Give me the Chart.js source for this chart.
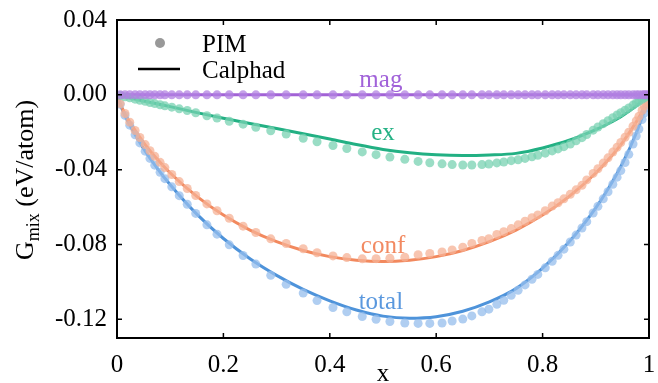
<!DOCTYPE html>
<html>
<head>
<meta charset="utf-8">
<script src="https://cdn.jsdelivr.net/npm/chart.js@4.4.1/dist/chart.umd.min.js"></script>
<style>
  html, body { margin: 0; padding: 0; background: #fff; }
  #wrap { width: 658px; height: 383px; }
</style>
</head>
<body>
<div id="wrap"><canvas id="gmix" width="658" height="383"></canvas></div>
<script>
// PIM points (composition grid)
const pimX = [0.006, 0.015, 0.024, 0.034, 0.043, 0.053, 0.062, 0.071, 0.081, 0.090,
  0.103, 0.117, 0.132, 0.148, 0.169, 0.188, 0.211, 0.237, 0.261, 0.289,
  0.318, 0.350, 0.376, 0.406, 0.432, 0.461, 0.487, 0.513, 0.541, 0.566,
  0.588, 0.611, 0.630, 0.650, 0.667, 0.686, 0.699, 0.714, 0.727, 0.741,
  0.754, 0.767, 0.780, 0.791, 0.805, 0.818, 0.829, 0.840, 0.852, 0.863,
  0.874, 0.883, 0.895, 0.904, 0.914, 0.923, 0.932, 0.940, 0.947, 0.955,
  0.962, 0.970, 0.976, 0.981, 0.987, 0.991, 0.994, 0.998];

const pimMag = [0, 0, 0, 0, 0, 0, 0, 0, 0, 0,
  0, 0, 0, 0, 0, 0, 0, 0, 0, 0,
  0, 0, 0, 0, 0, 0, 0, 0, 0, 0,
  0, 0, 0, 0, 0, 0, 0, 0, 0, 0,
  0, 0, 0, 0, 0, 0, 0, 0, 0, 0,
  0, 0, 0, 0, 0, 0, 0, 0, 0, 0,
  0, 0, 0, 0, 0, 0, 0, 0];

const pimEx = [-0.0004, -0.0010, -0.0016, -0.0023, -0.0029, -0.0035, -0.0041, -0.0047, -0.0053, -0.0059,
  -0.0066, -0.0075, -0.0084, -0.0096, -0.0112, -0.0124, -0.0141, -0.0157, -0.0174, -0.0192,
  -0.0210, -0.0232, -0.0251, -0.0271, -0.0287, -0.0305, -0.0320, -0.0333, -0.0345, -0.0356,
  -0.0363, -0.0369, -0.0373, -0.0375, -0.0375, -0.0373, -0.0370, -0.0364, -0.0359, -0.0352,
  -0.0347, -0.0340, -0.0331, -0.0323, -0.0312, -0.0300, -0.0289, -0.0277, -0.0263, -0.0246,
  -0.0229, -0.0212, -0.0189, -0.0172, -0.0154, -0.0138, -0.0122, -0.0108, -0.0096, -0.0082,
  -0.0070, -0.0055, -0.0044, -0.0035, -0.0024, -0.0016, -0.0011, -0.0004];

const pimConf = [-0.0047, -0.0100, -0.0146, -0.0191, -0.0228, -0.0266, -0.0299, -0.0329, -0.0361, -0.0389,
  -0.0426, -0.0464, -0.0501, -0.0538, -0.0583, -0.0620, -0.0660, -0.0702, -0.0736, -0.0770,
  -0.0795, -0.0823, -0.0844, -0.0861, -0.0870, -0.0877, -0.0876, -0.0873, -0.0868, -0.0855,
  -0.0848, -0.0840, -0.0829, -0.0815, -0.0795, -0.0779, -0.0769, -0.0747, -0.0732, -0.0715,
  -0.0695, -0.0676, -0.0657, -0.0642, -0.0620, -0.0595, -0.0577, -0.0556, -0.0532, -0.0508,
  -0.0484, -0.0455, -0.0420, -0.0395, -0.0365, -0.0337, -0.0306, -0.0280, -0.0255, -0.0227,
  -0.0200, -0.0168, -0.0140, -0.0115, -0.0084, -0.0060, -0.0042, -0.0016];

const pimTotal = [-0.0051, -0.0110, -0.0162, -0.0214, -0.0257, -0.0301, -0.0340, -0.0376, -0.0414, -0.0448,
  -0.0492, -0.0539, -0.0585, -0.0634, -0.0695, -0.0745, -0.0802, -0.0859, -0.0905, -0.0965,
  -0.1013, -0.1060, -0.1100, -0.1137, -0.1160, -0.1185, -0.1200, -0.1212, -0.1220, -0.1222,
  -0.1222, -0.1220, -0.1209, -0.1199, -0.1182, -0.1160, -0.1146, -0.1120, -0.1098, -0.1072,
  -0.1045, -0.1016, -0.0986, -0.0960, -0.0925, -0.0890, -0.0858, -0.0825, -0.0787, -0.0750,
  -0.0712, -0.0678, -0.0632, -0.0596, -0.0556, -0.0518, -0.0478, -0.0440, -0.0405, -0.0362,
  -0.0318, -0.0263, -0.0220, -0.0183, -0.0132, -0.0098, -0.0070, -0.0028];

// Calphad curves
const lineX = [0, 0.01, 0.025, 0.05, 0.075, 0.1, 0.15, 0.2, 0.25, 0.3, 0.35, 0.4, 0.45, 0.5,
  0.55, 0.6, 0.65, 0.7, 0.75, 0.8, 0.85, 0.9, 0.925, 0.95, 0.975, 0.99, 1];
const lineMag = [0, 0, 0, 0, 0, 0, 0, 0, 0, 0, 0, 0, 0, 0,
  0, 0, 0, 0, 0, 0, 0, 0, 0, 0, 0, 0, 0];
const lineEx = [0, -0.0007, -0.0017, -0.0033, -0.0048, -0.0063, -0.0095, -0.0125, -0.0153, -0.0180,
  -0.0208, -0.0236, -0.0266, -0.0292, -0.0310, -0.0321, -0.0325, -0.0322, -0.0313, -0.0284,
  -0.0243, -0.0186, -0.0152, -0.0112, -0.0062, -0.0026, 0];
const lineConf = [0, -0.0072, -0.0150, -0.0255, -0.0342, -0.0418, -0.0543, -0.0643, -0.0723, -0.0785,
  -0.0832, -0.0865, -0.0884, -0.0891, -0.0884, -0.0865, -0.0832, -0.0785, -0.0723, -0.0643,
  -0.0543, -0.0418, -0.0342, -0.0255, -0.0150, -0.0072, 0];
const lineTotal = [0, -0.0079, -0.0167, -0.0288, -0.0390, -0.0481, -0.0638, -0.0768, -0.0876, -0.0965,
  -0.1040, -0.1101, -0.1150, -0.1183, -0.1194, -0.1186, -0.1157, -0.1107, -0.1036, -0.0927,
  -0.0786, -0.0604, -0.0494, -0.0367, -0.0212, -0.0098, 0];

const xTicks = [0, 0.2, 0.4, 0.6, 0.8, 1];
const xTickLabels = ['0', '0.2', '0.4', '0.6', '0.8', '1'];
const yTicks = [-0.12, -0.08, -0.04, 0, 0.04];
const yTickLabels = ['-0.12', '-0.08', '-0.04', '0.00', '0.04'];

// curve labels, in data units
const curveLabels = [
  { text: 'mag', x: 0.496, y: 0.0043, color: '#a162d9' },
  { text: 'ex', x: 0.50, y: -0.0240, color: '#25b285' },
  { text: 'conf', x: 0.50, y: -0.0845, color: '#f28a62' },
  { text: 'total', x: 0.496, y: -0.1143, color: '#5a98de' }
];

const FONT = '"Liberation Serif", "DejaVu Serif", serif';

function pts(xs, ys) {
  return xs.map((x, i) => ({ x: x, y: ys[i] }));
}

function dotSet(ys, color) {
  return {
    data: pts(pimX, ys), showLine: false,
    pointRadius: 4.5, pointHoverRadius: 4.5,
    backgroundColor: color, borderWidth: 0
  };
}

function lineSet(ys, color) {
  return {
    data: pts(lineX, ys), showLine: true, pointRadius: 0,
    borderColor: color, borderWidth: 3,
    cubicInterpolationMode: 'monotone', fill: false
  };
}

// frame, inward ticks, legend and text
const decor = {
  id: 'decor',
  afterDatasetsDraw(chart) {
    const ctx = chart.ctx;
    const a = chart.chartArea;
    const xs = chart.scales.x, ys = chart.scales.y;
    ctx.save();
    ctx.strokeStyle = '#000';
    ctx.lineWidth = 1.5;
    ctx.beginPath();
    xTicks.forEach(v => {
      const px = xs.getPixelForValue(v);
      ctx.moveTo(px, a.bottom); ctx.lineTo(px, a.bottom - 5);
      ctx.moveTo(px, a.top); ctx.lineTo(px, a.top + 5);
    });
    yTicks.forEach(v => {
      const py = ys.getPixelForValue(v);
      ctx.moveTo(a.left, py); ctx.lineTo(a.left + 5, py);
      ctx.moveTo(a.right, py); ctx.lineTo(a.right - 5, py);
    });
    ctx.stroke();
    ctx.lineWidth = 2;
    ctx.strokeRect(a.left, a.top, a.right - a.left, a.bottom - a.top);

    // curve labels
    ctx.font = '25px ' + FONT;
    ctx.textAlign = 'center';
    ctx.textBaseline = 'alphabetic';
    curveLabels.forEach(l => {
      ctx.fillStyle = l.color;
      ctx.fillText(l.text, xs.getPixelForValue(l.x), ys.getPixelForValue(l.y));
    });

    // legend
    ctx.fillStyle = '#999';
    ctx.beginPath();
    ctx.arc(160, 43, 5, 0, Math.PI * 2);
    ctx.fill();
    ctx.strokeStyle = '#000';
    ctx.lineWidth = 2.5;
    ctx.beginPath();
    ctx.moveTo(138, 69); ctx.lineTo(180, 69);
    ctx.stroke();
    ctx.fillStyle = '#000';
    ctx.textAlign = 'left';
    ctx.fillText('PIM', 202, 52);
    ctx.fillText('Calphad', 202, 78);

    // x title
    ctx.textAlign = 'center';
    ctx.fillText('x', (a.left + a.right) / 2, 381);

    // y title with subscript
    const big = '26px ' + FONT, small = '18px ' + FONT;
    ctx.font = big; const wG = ctx.measureText('G').width;
    const wRest = ctx.measureText(' (eV/atom)').width;
    ctx.font = small; const wSub = ctx.measureText('mix').width;
    const total = wG + wSub + wRest;
    ctx.translate(33, 180);
    ctx.rotate(-Math.PI / 2);
    ctx.textAlign = 'left';
    let cx = -total / 2;
    ctx.font = big; ctx.fillText('G', cx, 0); cx += wG;
    ctx.font = small; ctx.fillText('mix', cx, 6); cx += wSub;
    ctx.font = big; ctx.fillText(' (eV/atom)', cx, 0);
    ctx.restore();
  }
};

new Chart(document.getElementById('gmix'), {
  type: 'scatter',
  data: {
    datasets: [
      dotSet(pimMag, 'rgba(178,130,226,0.75)'),
      dotSet(pimEx, 'rgba(120,210,178,0.75)'),
      dotSet(pimConf, 'rgba(246,178,150,0.75)'),
      dotSet(pimTotal, 'rgba(150,190,236,0.75)'),
      lineSet(lineMag, '#a262d6'),
      lineSet(lineEx, '#22b083'),
      lineSet(lineConf, '#f2895e'),
      lineSet(lineTotal, '#4e93da')
    ]
  },
  options: {
    responsive: false,
    animation: false,
    devicePixelRatio: 1,
    layout: { padding: { left: 0, right: 9, top: 20, bottom: 0 } },
    plugins: { legend: { display: false }, tooltip: { enabled: false } },
    scales: {
      x: {
        type: 'linear', min: 0, max: 1,
        grid: { display: false, drawTicks: false },
        border: { display: false },
        afterBuildTicks: s => { s.ticks = xTicks.map(v => ({ value: v })); },
        afterFit: s => { s.height = 45; s.paddingLeft = 0; s.paddingRight = 0; },
        ticks: {
          padding: 12, color: '#000', maxRotation: 0,
          font: { family: FONT, size: 25 },
          callback: (v, i) => xTickLabels[i]
        }
      },
      y: {
        type: 'linear', min: -0.13, max: 0.04,
        grid: { display: false, drawTicks: false },
        border: { display: false },
        afterBuildTicks: s => { s.ticks = yTicks.map(v => ({ value: v })); },
        afterFit: s => { s.width = 117; s.paddingTop = 0; s.paddingBottom = 0; },
        ticks: {
          padding: 10, color: '#000',
          font: { family: FONT, size: 25 },
          callback: (v, i) => yTickLabels[i]
        }
      }
    }
  },
  plugins: [decor]
});
</script>
</body>
</html>
